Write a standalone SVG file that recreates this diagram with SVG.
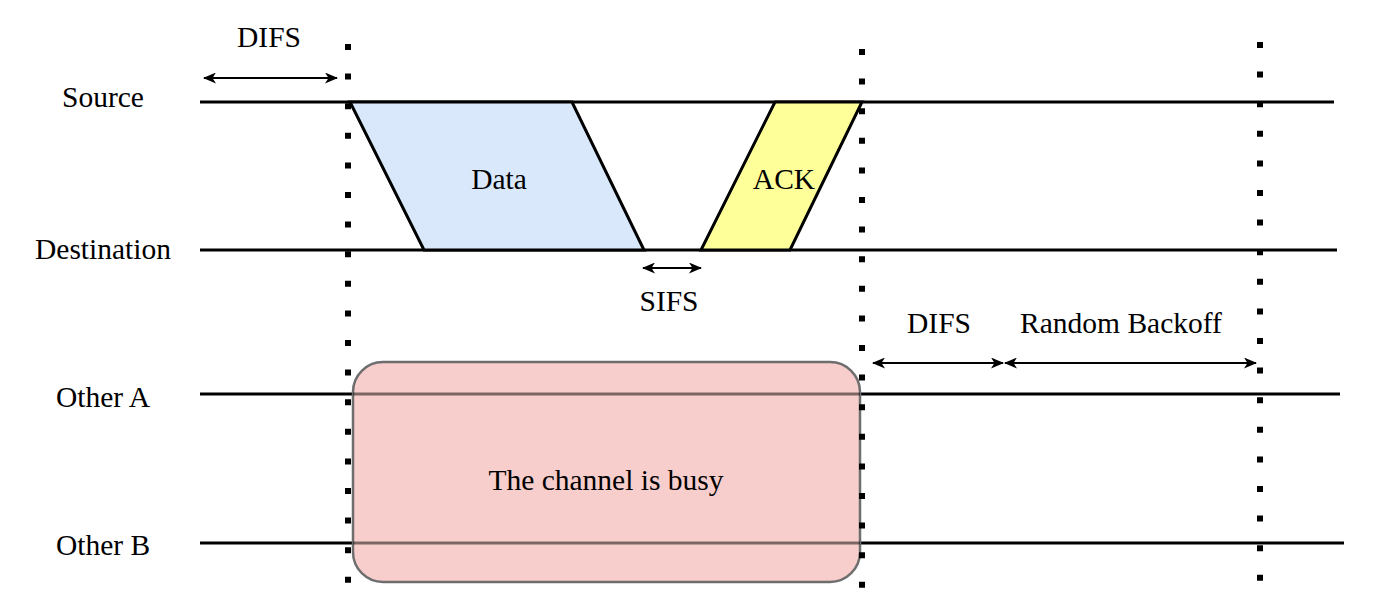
<svg xmlns="http://www.w3.org/2000/svg" width="1374" height="612" viewBox="0 0 1374 612">
<defs>
<style>
text{font-family:"Liberation Serif","Times New Roman",serif;font-size:29.5px;fill:#000;text-anchor:middle}
.ln{stroke:#000;stroke-width:3;fill:none}
.dot{stroke:#000;stroke-width:6;stroke-dasharray:6 23.6;fill:none}
.arr{stroke:#000;stroke-width:2;fill:none;marker-start:url(#ah);marker-end:url(#ah)}
</style>
<marker id="ah" viewBox="0 0 13 11" refX="12" refY="5.5" markerWidth="13" markerHeight="11" markerUnits="userSpaceOnUse" orient="auto-start-reverse">
<path d="M0,0 L13,5.5 L0,11 L3.5,5.5 Z" fill="#000"/>
</marker>
</defs>
<rect width="1374" height="612" fill="#fff"/>
<g id="timelines">
<line class="ln" x1="200" y1="102" x2="1334" y2="102"/>
<line class="ln" x1="200" y1="250" x2="1337" y2="250"/>
<line class="ln" x1="200" y1="394" x2="1340" y2="394"/>
<line class="ln" x1="200" y1="543" x2="1344" y2="543"/>
</g>
<g id="labels">
<text x="103" y="107">Source</text>
<text x="103" y="259">Destination</text>
<text x="103" y="407">Other A</text>
<text x="103" y="555">Other B</text>
</g>
<g id="data">
<polygon points="350,102 572,102 644,250 424,250" fill="#dae8fc" stroke="#000" stroke-width="3"/>
<text x="499" y="189">Data</text>
</g>
<g id="ack">
<polygon points="775,102 862,102 790,250 701,250" fill="#ffff99" stroke="#000" stroke-width="3"/>
<text x="784" y="189">ACK</text>
</g>
<g id="busy">
<rect x="353" y="362" width="507" height="220" rx="30" ry="30" fill="#f8cecc" stroke="#6e6e6e" stroke-width="2.5"/>
<line x1="353" y1="394" x2="860" y2="394" stroke="#000" stroke-opacity="0.5" stroke-width="3"/>
<line x1="353" y1="543" x2="860" y2="543" stroke="#000" stroke-opacity="0.5" stroke-width="3"/>
<text x="606" y="490">The channel is busy</text>
</g>
<g id="markers">
<line class="dot" x1="348" y1="44" x2="348" y2="590"/>
<line class="dot" x1="862" y1="49" x2="862" y2="595"/>
<line class="dot" x1="1260" y1="42" x2="1260" y2="585"/>
</g>
<g id="connectors">
<line class="arr" x1="204" y1="78" x2="337" y2="78"/>
<line class="arr" x1="643" y1="268" x2="701" y2="268"/>
<line class="arr" x1="873" y1="363" x2="1003" y2="363"/>
<line class="arr" x1="1005" y1="363" x2="1256" y2="363"/>
</g>
<g id="intervals">
<text x="269" y="47">DIFS</text>
<text x="669" y="311">SIFS</text>
<text x="939" y="333">DIFS</text>
<text x="1121" y="333">Random Backoff</text>
</g>
</svg>
